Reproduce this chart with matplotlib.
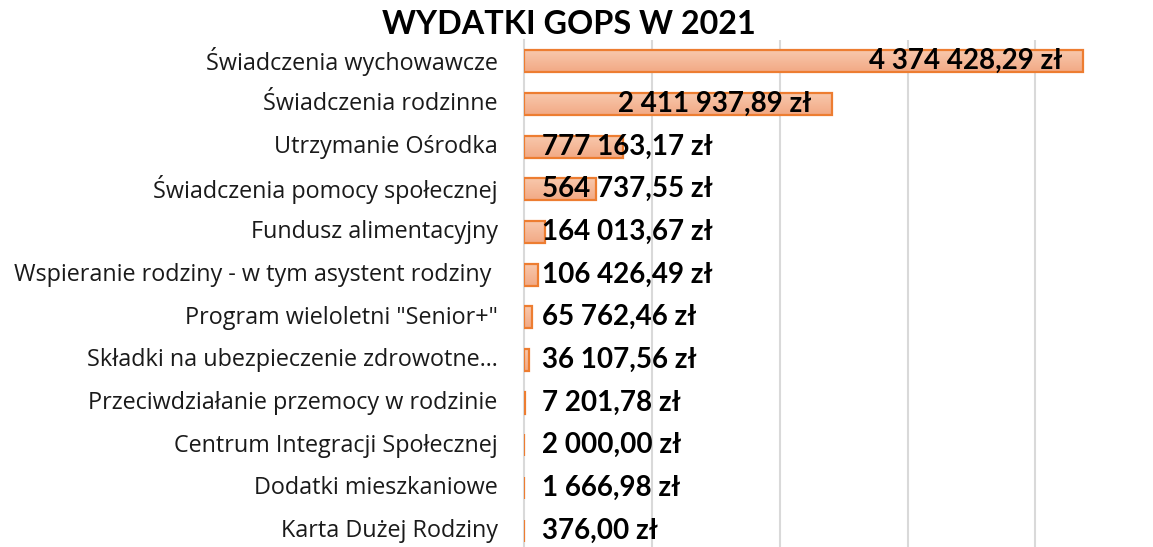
import matplotlib
matplotlib.use('Agg')
import matplotlib.pyplot as plt
import matplotlib.transforms as mtransforms
import numpy as np

# Data
categories = [
    'Świadczenia wychowawcze',
    'Świadczenia rodzinne',
    'Utrzymanie Ośrodka',
    'Świadczenia pomocy społecznej',
    'Fundusz alimentacyjny',
    'Wspieranie rodziny - w tym asystent rodziny ',
    'Program wieloletni "Senior+"',
    'Składki na ubezpieczenie zdrowotne…',
    'Przeciwdziałanie przemocy w rodzinie',
    'Centrum Integracji Społecznej',
    'Dodatki mieszkaniowe',
    'Karta Dużej Rodziny',
]
values = [4374428.29, 2411937.89, 777163.17, 564737.55, 164013.67, 106426.49,
          65762.46, 36107.56, 7201.78, 2000.00, 1666.98, 376.00]
title = 'WYDATKI GOPS W 2021'


def fmt_pln(v):
    s = f'{v:,.2f}'.replace(',', ' ').replace('.', ',')
    return s + ' zł'


plt.rcParams['font.family'] = ['Lato', 'DejaVu Sans']

W, H = 1153, 547
fig = plt.figure(figsize=(W / 100, H / 100), dpi=100)
left, right, top, bottom = 524, 1153, 40, 552
ax = fig.add_axes([left / W, (H - bottom) / H, (right - left) / W, (bottom - top) / H])

n = len(categories)
ypos = np.arange(n)
bar_h = 0.51
xmax = 4.92e6

# gradient fill for each bar
grad = np.linspace(0, 1, 50).reshape(-1, 1)
cmap = matplotlib.colors.LinearSegmentedColormap.from_list('g', ['#F8C8AC', '#F2A985'])
for y, v in zip(ypos, values):
    ax.imshow(grad, cmap=cmap, aspect='auto', extent=(0, v, y + bar_h / 2, y - bar_h / 2),
              zorder=2, interpolation='bilinear')
ax.barh(ypos, values, height=bar_h, facecolor='none', edgecolor='#ED7D31', linewidth=1.6, zorder=3)

ax.set_xlim(0, xmax)
ax.set_ylim(n - 0.5, -0.5)

ax.set_xticks([1e6, 2e6, 3e6, 4e6])
ax.xaxis.grid(True, color='#D9D9D9', linewidth=1.5, zorder=0)
ax.set_axisbelow(True)
ax.tick_params(axis='x', length=0, labelbottom=False)
ax.tick_params(axis='y', length=0, pad=19)
ax.set_yticks(ypos)
ax.set_yticklabels(categories, fontsize=16.8, color='#1a1a1a', family=['Open Sans', 'DejaVu Sans'])

# nudge category labels up a little
shift = mtransforms.ScaledTranslation(0, 2 / 72, fig.dpi_scale_trans)
for lab in ax.get_yticklabels():
    lab.set_transform(lab.get_transform() + shift)

for s in ['top', 'right', 'bottom']:
    ax.spines[s].set_visible(False)
ax.spines['left'].set_color('#D9D9D9')
ax.spines['left'].set_linewidth(1.5)

for y, v in zip(ypos, values):
    if v > 1.5e6:
        ax.annotate(fmt_pln(v), xy=(v, y), xytext=(-15, 0), textcoords='offset points',
                    ha='right', va='center', fontsize=20, fontweight='bold', zorder=4)
    else:
        ax.annotate(fmt_pln(v), xy=(0, y), xytext=(13, 0), textcoords='offset points',
                    ha='left', va='center', fontsize=20, fontweight='bold', zorder=4)

fig.text(569 / W, 1 - 25 / H, title, ha='center', va='center', fontsize=23.3, fontweight='bold')

fig.savefig('out.png', dpi=100)
